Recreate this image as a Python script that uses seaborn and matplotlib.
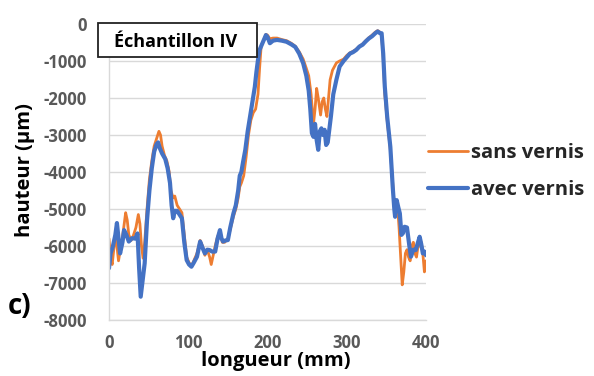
import numpy as np
import pandas as pd
import seaborn as sns
import matplotlib
matplotlib.use("Agg")
import matplotlib.pyplot as plt
from matplotlib.patches import Rectangle
from matplotlib.lines import Line2D

# ---- data ----
x_avec = [0, 2, 5, 8, 10, 12, 14, 17, 19, 22, 25, 29, 33, 36, 38, 40, 42, 45, 48, 51,
          54, 57, 60, 62, 64, 67, 71, 74, 77, 79, 81, 83, 86, 89, 92, 95, 98, 101, 104, 107,
          111, 115, 118, 121, 124, 127, 130, 134, 137, 140, 142, 144, 147, 150, 153, 157, 160, 163, 165, 167,
          169, 172, 175, 178, 181, 184, 186, 188, 190, 193, 196, 198, 200, 203, 207, 212, 218, 224, 230, 235,
          240, 245, 249, 252, 254, 256, 258, 260, 262, 264, 266, 268, 270, 272, 274, 276, 278, 280, 283, 287,
          291, 296, 300, 304, 308, 312, 316, 320, 324, 328, 332, 336, 339, 342, 344, 346, 348, 351, 355, 358,
          360, 361, 363, 365, 367, 369, 371, 373, 376, 379, 381, 384, 387, 390, 392, 394, 396, 398, 400]
y_avec = [-6600, -6200, -6000, -5700, -5380, -5800, -6200, -5900, -5570, -5700, -5880, -5790, -5800, -5660, -6600, -7370, -7000, -6470, -5300, -4500,
          -3900, -3450, -3250, -3200, -3350, -3500, -3650, -3900, -4300, -4900, -5250, -5050, -5050, -5150, -5250, -5900, -6380, -6500, -6560, -6450,
          -6290, -5880, -6050, -6200, -6100, -6110, -6150, -6150, -5800, -5570, -5800, -5880, -5850, -5840, -5500, -5120, -4900, -4500, -4100, -4000,
          -3750, -3400, -2900, -2500, -2100, -1700, -1300, -970, -700, -550, -400, -300, -350, -520, -450, -430, -450, -480, -550, -620,
          -800, -1060, -1400, -1800, -2300, -2950, -3050, -2700, -3130, -3400, -2900, -2820, -3000, -2860, -3270, -3200, -2860, -2500, -1900, -1500,
          -1150, -1000, -900, -800, -760, -700, -610, -560, -470, -390, -330, -250, -200, -250, -250, -800, -1690, -2500, -3320, -4400,
          -5000, -5210, -4760, -4950, -5120, -5700, -5650, -5480, -5500, -6000, -6290, -6100, -6110, -5900, -5750, -5950, -6200, -6150, -6250]

x_sans = [0, 2, 4, 6, 8, 10, 12, 15, 18, 21, 23, 25, 28, 31, 34, 37, 39, 41, 43, 45,
          48, 51, 54, 57, 60, 63, 65, 67, 70, 73, 76, 78, 81, 83, 86, 89, 92, 95, 98, 101,
          104, 107, 111, 115, 118, 121, 124, 127, 129, 131, 134, 137, 140, 143, 146, 150, 153, 157, 160, 163,
          165, 167, 170, 173, 176, 179, 182, 185, 188, 190, 192, 195, 198, 200, 203, 207, 212, 218, 224, 230,
          235, 240, 245, 249, 252, 255, 258, 260, 262, 264, 267, 269, 271, 273, 275, 277, 279, 282, 287, 291,
          296, 300, 304, 308, 312, 316, 320, 324, 328, 332, 336, 339, 342, 344, 346, 348, 351, 355, 358, 360,
          362, 364, 366, 368, 370, 372, 374, 376, 378, 380, 382, 384, 386, 388, 390, 392, 394, 396, 398, 400]
y_sans = [-5800, -6300, -6500, -6100, -5700, -6000, -6400, -6000, -5600, -5100, -5300, -5700, -5850, -5700, -5500, -5150, -5400, -6000, -6330, -5900,
          -5000, -4200, -3700, -3300, -3100, -2900, -3000, -3300, -3550, -3700, -4000, -4500, -4700, -4650, -4900, -5000, -5100, -5700, -6300, -6450,
          -6550, -6400, -6200, -5850, -6000, -6250, -6100, -6300, -6500, -6300, -6000, -5750, -5600, -5900, -5900, -5800, -5550, -5200, -5000, -4700,
          -4400, -4300, -4100, -3600, -3000, -2600, -2400, -2300, -1900, -1200, -600, -450, -280, -300, -400, -380, -380, -420, -450, -520,
          -600, -750, -950, -1200, -1400, -1900, -2700, -2300, -1740, -2000, -2460, -2100, -2000, -2300, -2500, -2000, -1510, -1250, -1050, -1000,
          -950, -850, -780, -740, -680, -600, -540, -450, -370, -300, -220, -180, -220, -300, -900, -1900, -2600, -3400, -4300, -4900,
          -5150, -4900, -5500, -6300, -7050, -6700, -6200, -6100, -6300, -6400, -6000, -5900, -6200, -6300, -6000, -6000, -5900, -6200, -6700, -6400]

series_labels = ["sans vernis", "avec vernis"]
x_ticks = [0, 100, 200, 300, 400]
y_ticks = [0, -1000, -2000, -3000, -4000, -5000, -6000, -7000, -8000]

df_sans = pd.DataFrame({"x": x_sans, "y": y_sans})
df_avec = pd.DataFrame({"x": x_avec, "y": y_avec})

sns.set_theme(style="white")
plt.rcParams["font.family"] = ["Open Sans", "DejaVu Sans"]

fig = plt.figure(figsize=(5.94, 3.76), dpi=100)
ax = fig.add_axes([109 / 594, 1 - 320 / 376, (426 - 109) / 594, (320 - 24) / 376])

c_or = "#ED7D31"
c_bl = "#4472C4"
sns.lineplot(data=df_sans, x="x", y="y", ax=ax, color=c_or, lw=2.0, sort=False, estimator=None)
sns.lineplot(data=df_avec, x="x", y="y", ax=ax, color=c_bl, lw=3.0, sort=False, estimator=None)

ax.set_xlim(0, 400)
ax.set_ylim(-8000, 0)
ax.set_xticks(x_ticks)
ax.set_yticks(y_ticks)
ax.set_xticklabels([str(t) for t in x_ticks])
ax.set_yticklabels([str(t) for t in y_ticks])
ax.grid(axis="y", color="#d9d9d9", lw=1)
ax.set_axisbelow(True)
for s in ["top", "right"]:
    ax.spines[s].set_visible(False)
for s in ["left", "bottom"]:
    ax.spines[s].set_color("#d9d9d9")
    ax.spines[s].set_linewidth(1)
ax.tick_params(axis="both", length=0, labelsize=12, labelcolor="#595959")
ax.tick_params(axis="y", pad=16)
ax.tick_params(axis="x", pad=10)
for lab in ax.get_xticklabels() + ax.get_yticklabels():
    lab.set_fontweight("bold")

ax.set_xlabel("longueur (mm)", fontsize=14.5, fontweight="bold", color="black")
ax.xaxis.set_label_coords((276 - 109) / 317, -(361 - 320) / 296)
ax.xaxis.label.set_va("center")
ax.set_ylabel("hauteur (µm)", fontsize=14.5, fontweight="bold", color="black")
ax.yaxis.set_label_coords(-(109 - 25) / 317, (320 - 170) / 296)
ax.yaxis.label.set_va("center")

# legend
handles = [Line2D([], [], color=c_or, lw=2.0), Line2D([], [], color=c_bl, lw=3.0)]
fig.legend(handles, series_labels, loc="upper left", bbox_to_anchor=(424 / 594, 1 - 139 / 376),
           frameon=False, prop={"weight": "bold", "size": 14.5}, handlelength=2.0,
           handletextpad=0.15, labelspacing=0.85, borderaxespad=0, borderpad=0.2)

# title box
fig.patches.append(Rectangle((98 / 594, 1 - 57 / 376), (257 - 98) / 594, (57 - 23) / 376,
                             transform=fig.transFigure, facecolor="white", edgecolor="#222222",
                             lw=1.3, zorder=5))
fig.text(176 / 594, 1 - 42 / 376, "Échantillon IV", ha="center", va="center",
         fontsize=13, fontweight="bold", color="black", zorder=6)

fig.text(20 / 594, 1 - 307 / 376, "c)", ha="center", va="center",
         fontsize=20, fontweight="bold", color="black")

fig.savefig("out.png", dpi=100)
